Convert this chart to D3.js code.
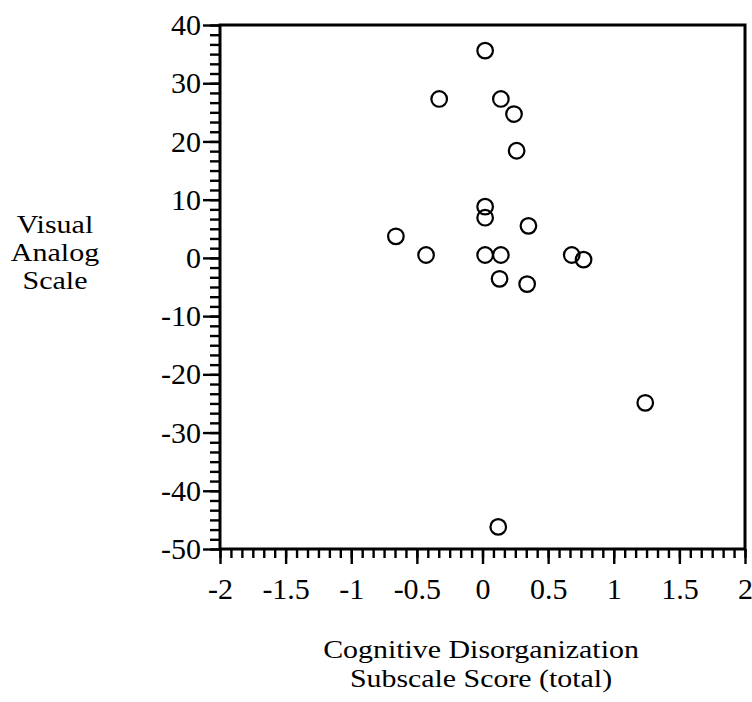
<!DOCTYPE html>
<html>
<head>
<meta charset="utf-8">
<script src="https://cdn.jsdelivr.net/npm/d3@7"></script>
<style>
  body { margin: 0; background: #fff; }
</style>
</head>
<body>
<script>
"use strict";

// cognitive disorganization score (x) vs visual analog scale (y)
var cogScore = [0.02, -0.33, 0.14, 0.24, 0.26, 0.02, 0.02, -0.66, -0.43, 0.02, 0.14, 0.35, 0.68, 0.77, 0.13, 0.34, 1.24, 0.12];
var vasScore = [35.6, 27.3, 27.3, 24.7, 18.4, 8.8, 6.9, 3.7, 0.5, 0.5, 0.5, 5.5, 0.5, -0.3, -3.6, -4.5, -24.9, -46.2];

var xTicks = [-2, -1.5, -1, -0.5, 0, 0.5, 1, 1.5, 2];
var yTicks = [40, 30, 20, 10, 0, -10, -20, -30, -40, -50];
var xTitle = ["Cognitive Disorganization", "Subscale Score (total)"];
var yTitle = ["Visual", "Analog", "Scale"];

function init() {
  var w = 752;
  var h = 702;
  var font = "'Liberation Serif', 'Times New Roman', serif";

  var xScale = d3.scaleLinear().domain([-2, 2]).range([220, 745]);
  var yScale = d3.scaleLinear().domain([-50, 40]).range([549, 25]);

  var svg = d3.select("body")
    .append("svg")
    .attr("width", w)
    .attr("height", h);

  // minor ticks, 6 steps between labelled ticks
  var xMinor = d3.range(-2, 2.001, 0.5 / 6);
  var yMinor = d3.range(-50, 40.001, 10 / 6);

  svg.append("g")
    .attr("transform", "translate(0," + yScale(-50) + ")")
    .call(d3.axisBottom(xScale).tickValues(xMinor).tickSize(9).tickSizeOuter(0).tickFormat(""));

  svg.append("g")
    .attr("transform", "translate(" + xScale(-2) + ",0)")
    .call(d3.axisLeft(yScale).tickValues(yMinor).tickSize(10).tickSizeOuter(0).tickFormat(""));

  svg.append("g")
    .attr("class", "x-axis")
    .attr("transform", "translate(0," + yScale(-50) + ")")
    .call(d3.axisBottom(xScale).tickValues(xTicks).tickSize(15).tickSizeOuter(0).tickPadding(14)
      .tickFormat(function (d) { return String(d); }));

  svg.append("g")
    .attr("class", "y-axis")
    .attr("transform", "translate(" + xScale(-2) + ",0)")
    .call(d3.axisLeft(yScale).tickValues(yTicks).tickSize(17).tickSizeOuter(0).tickPadding(2)
      .tickFormat(function (d) { return String(d); }));

  svg.selectAll(".domain").remove();
  svg.selectAll(".tick line")
    .attr("stroke", "#000")
    .attr("stroke-width", 2.4);
  svg.selectAll(".x-axis, .y-axis")
    .attr("font-family", font)
    .attr("font-size", 30);
  svg.selectAll(".tick text").attr("fill", "#000");

  // plot frame
  svg.append("rect")
    .attr("x", xScale(-2))
    .attr("y", yScale(40))
    .attr("width", xScale(2) - xScale(-2))
    .attr("height", yScale(-50) - yScale(40))
    .attr("fill", "none")
    .attr("stroke", "#000")
    .attr("stroke-width", 3);

  svg.selectAll("circle")
    .data(cogScore)
    .enter()
    .append("circle")
    .attr("cx", function (d) { return xScale(d); })
    .attr("cy", function (d, i) { return yScale(vasScore[i]); })
    .attr("r", 7.8)
    .attr("fill", "none")
    .attr("stroke", "#000")
    .attr("stroke-width", 2.2);

  // titles: the scanned type is wider than Liberation Serif, so stretch it a little
  svg.append("g")
    .attr("transform", "translate(55,0) scale(1.2,1)")
    .selectAll("text")
    .data(yTitle)
    .enter()
    .append("text")
    .attr("font-family", font)
    .attr("font-size", 25)
    .attr("text-anchor", "middle")
    .attr("x", 0)
    .attr("y", function (d, i) { return 233 + i * 28; })
    .text(function (d) { return d; });

  svg.append("g")
    .attr("transform", "translate(481,0) scale(1.15,1)")
    .selectAll("text")
    .data(xTitle)
    .enter()
    .append("text")
    .attr("font-family", font)
    .attr("font-size", 26)
    .attr("text-anchor", "middle")
    .attr("x", 0)
    .attr("y", function (d, i) { return 658 + i * 29; })
    .text(function (d) { return d; });
}

window.onload = init;
</script>
</body>
</html>
